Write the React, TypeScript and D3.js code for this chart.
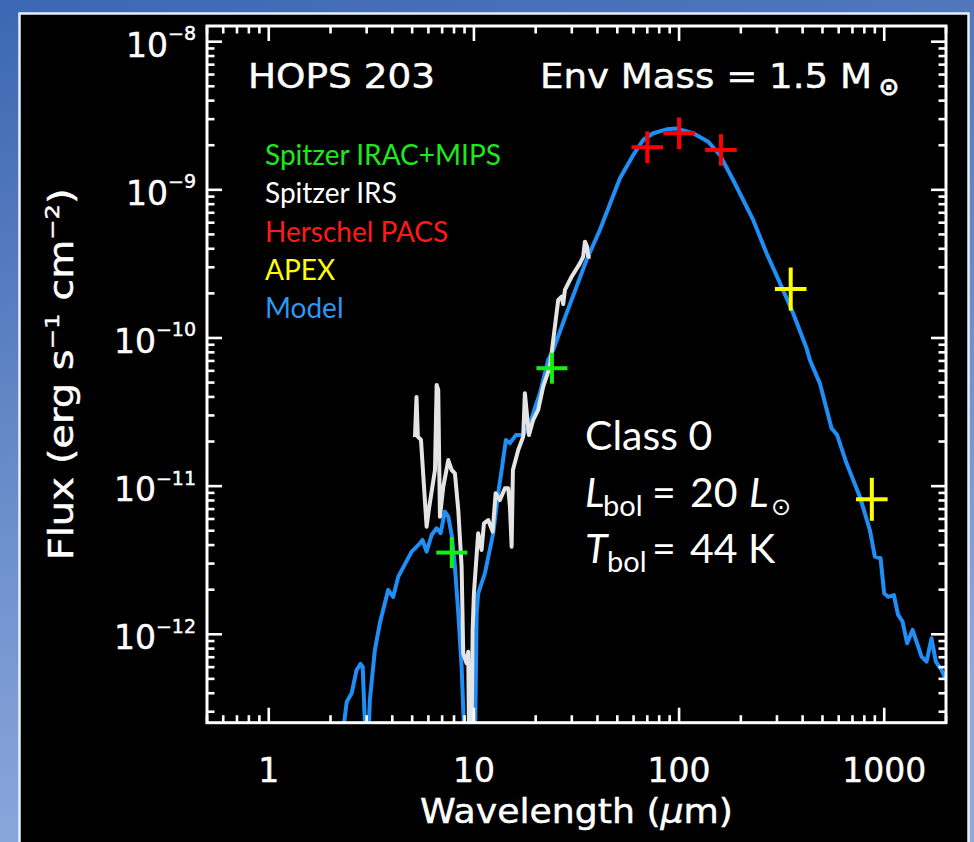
import React from 'react';
import * as d3 from 'd3';

// ---------------- data ----------------
// Model SED: wavelength (µm) and flux (erg s^-1 cm^-2)
const modelWave = [2.28, 2.40, 2.535, 2.68, 2.80, 2.87, 2.96, 3.06, 3.11, 3.29, 3.48, 3.82, 4.04, 4.28, 4.97, 5.46, 5.62, 5.88, 6.22, 6.58, 6.88, 7.22, 7.50, 7.79, 8.08, 8.39, 8.71, 9.05, 10.1, 10.31, 10.49, 11.31, 12.42, 13.13, 13.65, 14.32, 14.98, 16.02, 17.39, 18.75, 20.97, 23.02, 24.35, 28.3, 35.4, 41.1, 51.5, 59.8, 66.8, 74.8, 87.0, 97.2, 117.2, 138.7, 158.1, 183.5, 229.7, 266.9, 315.9, 359.8, 418.1, 434.0, 485.6, 553.6, 589.5, 655.2, 760.5, 850.8, 900, 959.4, 998.9, 1045, 1114, 1169, 1228, 1293, 1374, 1520, 1608, 1700, 1784, 1902, 2000];
const modelFlux = [2.0e-13, 3.51e-13, 4.0e-13, 5.74e-13, 6.31e-13, 6.04e-13, 2.0e-13, 2.0e-13, 3.6e-13, 7.83e-13, 1.19e-12, 1.99e-12, 1.79e-12, 2.45e-12, 3.61e-12, 4.11e-12, 4.33e-12, 3.61e-12, 4.68e-12, 5.19e-12, 4.81e-12, 6.73e-12, 6.22e-12, 4.68e-12, 2.86e-12, 1.39e-12, 6.04e-13, 1.5e-13, 1.5e-13, 1.39e-12, 1.89e-12, 2.58e-12, 4.81e-12, 8.95e-12, 1.285e-11, 2.05e-11, 1.95e-11, 2.21e-11, 2.21e-11, 2.66e-11, 4.24e-11, 7.11e-11, 8.3e-11, 1.47e-10, 3.36e-10, 5.36e-10, 1.197e-9, 1.718e-9, 2.17e-9, 2.41e-9, 2.56e-9, 2.59e-9, 2.41e-9, 2.11e-9, 1.718e-9, 1.165e-9, 6.26e-10, 3.73e-10, 2.22e-10, 1.47e-10, 8.52e-11, 7.11e-11, 4.94e-11, 2.46e-11, 2.21e-11, 1.426e-11, 8.49e-12, 5.06e-12, 3.34e-12, 3.26e-12, 1.89e-12, 1.79e-12, 1.84e-12, 1.35e-12, 1.216e-12, 8.69e-13, 1.07e-12, 7.06e-13, 6.53e-13, 9.4e-13, 6.53e-13, 5.74e-13, 4.92e-13];

// Spitzer IRS spectrum
const irsWave = [5.16, 5.25, 5.33, 5.52, 5.88, 6.06, 6.46, 6.58, 6.70, 6.83, 7.09, 7.50, 7.79, 8.08, 8.39, 8.71, 8.87, 9.21, 9.38, 9.49, 9.72, 9.86, 10.0, 10.49, 10.9, 11.19, 11.74, 12.34, 12.76, 13.39, 14.16, 14.70, 14.98, 15.27, 15.49, 16.44, 17.39, 17.72, 18.54, 19.45, 20.57, 21.76, 23.47, 24.81, 25.76, 26.76, 27.24, 27.77, 29.93, 32.86, 34.09, 34.75, 35.65, 36.06, 37.05];
const irsFlux = [2.14e-11, 4.0e-11, 2.16e-11, 2.05e-11, 5.32e-12, 7.27e-12, 1.285e-11, 4.82e-11, 4.46e-11, 6.22e-12, 9.9e-12, 1.5e-11, 1.285e-11, 1.22e-11, 6.9e-12, 2.86e-12, 7.44e-13, 6.37e-13, 7.63e-13, 1.5e-13, 1.5e-13, 1.07e-12, 1.89e-12, 4.81e-12, 3.71e-12, 5.61e-12, 5.9e-12, 4.93e-12, 8.95e-12, 8.05e-12, 9.66e-12, 9.66e-12, 7.27e-12, 3.9e-12, 1.285e-11, 1.754e-11, 2.16e-11, 4.24e-11, 2.21e-11, 2.8e-11, 3.27e-11, 4.69e-11, 6.4e-11, 1.19e-10, 1.805e-10, 1.9e-10, 1.697e-10, 2.11e-10, 2.59e-10, 3.19e-10, 3.54e-10, 4.47e-10, 4.13e-10, 3.54e-10, 3.54e-10];

// Photometry
const iracMipsWave = [7.8, 24];
const iracMipsFlux = [3.56e-12, 6.25e-11];
const pacsWave = [70, 100, 160];
const pacsFlux = [1.94e-9, 2.41e-9, 1.86e-9];
const apexWave = [350, 870];
const apexFlux = [2.14e-10, 8.15e-12];

// Axes / labels
const xDomain = [0.5, 2000];
const yDomain = [2.53e-13, 1.276e-8];
const xTickValues = [1, 10, 100, 1000];
const yTickExponents = [-8, -9, -10, -11, -12];
const legendLabels = ['Spitzer IRAC+MIPS', 'Spitzer IRS', 'Herschel PACS', 'APEX', 'Model'];
const sourceName = 'HOPS 203';
const envMassLabel = 'Env Mass = 1.5 M';
const classLabel = 'Class 0';
const lbolValue = '20';
const tbolValue = '44 K';

// ---------------- styles ----------------
const legendColors = ['#1ee81e', '#ffffff', '#ff1a1a', '#ffff00', '#2f98f2'];
const MODEL_COLOR = '#1f8ff7';
const IRS_COLOR = '#e4e4e4';
const AX_FONT = '"DejaVu Sans", sans-serif';
const CAL_FONT = 'Lato, "Open Sans", sans-serif';

export default function App() {
  const W = 974, H = 842;
  const L = 207, R = 946, T = 26, B = 722.7;
  const x = d3.scaleLog().domain(xDomain).range([L, R]);
  const y = d3.scaleLog().domain(yDomain).range([B, T]);
  const line = d3.line<[number, number]>().x(d => x(d[0])).y(d => y(d[1]));
  const modelPath = line(d3.zip(modelWave, modelFlux) as [number, number][]) || '';
  const irsPath = line(d3.zip(irsWave, irsFlux) as [number, number][]) || '';
  const isMajor = (v: number) => Math.abs(Math.log10(v) - Math.round(Math.log10(v))) < 1e-6;
  const xt = x.ticks();
  const yt = y.ticks();

  const cross = (wx: number, fy: number, color: string, hx: number, hy: number, key: string) => {
    const cx = x(wx), cy = y(fy);
    return (
      <g key={key} stroke={color} strokeWidth={4}>
        <line x1={cx - hx} x2={cx + hx} y1={cy} y2={cy} />
        <line x1={cx} x2={cx} y1={cy - hy} y2={cy + hy} />
      </g>
    );
  };

  return (
    <svg width={W} height={H} viewBox={`0 0 ${W} ${H}`} style={{ position: 'absolute', left: 0, top: 0, display: 'block' }}>
      <defs>
        <linearGradient id="bg" x1="0" y1="0" x2="0.25" y2="1">
          <stop offset="0" stopColor="#3c67b2" />
          <stop offset="1" stopColor="#8eaadd" />
        </linearGradient>
        <clipPath id="plotClip">
          <rect x={L} y={T} width={R - L} height={B - T} />
        </clipPath>
      </defs>
      <rect x={0} y={0} width={W} height={H} fill="url(#bg)" />
      <rect x={19.5} y={13.5} width={949} height={845} fill="#000" stroke="#e8eef8" strokeWidth={2.5} />

      {/* data */}
      <g clipPath="url(#plotClip)" fill="none" strokeLinejoin="round" strokeLinecap="butt">
        <path d={modelPath} stroke={MODEL_COLOR} strokeWidth={4} />
        <path d={irsPath} stroke={IRS_COLOR} strokeWidth={4} />
      </g>
      {iracMipsWave.map((w, i) => cross(w, iracMipsFlux[i], '#12f012', 15.5, 15.5, 'g' + i))}
      {pacsWave.map((w, i) => cross(w, pacsFlux[i], '#ff0000', 15.8, 15.8, 'r' + i))}
      {apexWave.map((w, i) => cross(w, apexFlux[i], '#ffff00', 15.8, 21.5, 'y' + i))}

      {/* axes box */}
      <rect x={L} y={T} width={R - L} height={B - T} fill="none" stroke="#fff" strokeWidth={3} />
      <g stroke="#fff" strokeWidth={2.6}>
        {xt.map((v, i) => {
          const px = x(v);
          const len = isMajor(v) ? 15 : 7.5;
          return (
            <g key={'xt' + i}>
              <line x1={px} x2={px} y1={B} y2={B - len} />
              <line x1={px} x2={px} y1={T} y2={T + len} />
            </g>
          );
        })}
        {yt.map((v, i) => {
          const py = y(v);
          const len = isMajor(v) ? 15 : 7.5;
          return (
            <g key={'yt' + i}>
              <line x1={L} x2={L + len} y1={py} y2={py} />
              <line x1={R} x2={R - len} y1={py} y2={py} />
            </g>
          );
        })}
      </g>

      {/* IDL-style texts (slightly heavier strokes) */}
      <g fill="#fff" stroke="#fff" strokeWidth={0.45} fontFamily={AX_FONT}>
        {/* tick labels */}
        <g fontSize={33}>
          {xTickValues.map(v => (
            <text key={'xl' + v} x={x(v)} y={782} textAnchor="middle">{String(v)}</text>
          ))}
          {yTickExponents.map(e => (
            <text key={'yl' + e} x={196} y={y(Math.pow(10, e)) + 15} textAnchor="end">
              10<tspan dy={-16.5} fontSize={19}>{'\u2212' + Math.abs(e)}</tspan>
            </text>
          ))}
        </g>

        {/* axis titles */}
        <text x={(L + R) / 2} y={823} textAnchor="middle" fontSize={33}
          textLength={313} lengthAdjust="spacingAndGlyphs">
          Wavelength (<tspan fontStyle="italic">µ</tspan>m)
        </text>
        <text transform={`translate(73, ${(T + B) / 2}) rotate(-90)`} textAnchor="middle"
          fontSize={33} textLength={372} lengthAdjust="spacingAndGlyphs">
          Flux (erg s<tspan dy={-14} fontSize={20}>{'\u22121'}</tspan><tspan dy={14}> cm</tspan><tspan dy={-14} fontSize={20}>{'\u22122'}</tspan><tspan dy={14}>)</tspan>
        </text>

        {/* in-plot headers */}
        <text x={248} y={88} fontSize={33} textLength={187} lengthAdjust="spacingAndGlyphs">{sourceName}</text>
        <text x={540} y={88} fontSize={33} textLength={332} lengthAdjust="spacingAndGlyphs">{envMassLabel}</text>
        <text x={889} y={95} fontWeight="bold" fontSize={25} textAnchor="middle">⊙</text>
      </g>

      {/* legend */}
      <g fontFamily={CAL_FONT} fontSize={28}>
        {legendLabels.map((lab, i) => (
          <text key={lab} x={265} y={165 + i * 38.3} fill={legendColors[i]}>{lab}</text>
        ))}
      </g>

      {/* annotation */}
      <g fill="#fff" fontFamily={CAL_FONT} fontSize={41}>
        <text x={585} y={450}>{classLabel}</text>
        <text y={507}>
          <tspan x={585} fontStyle="italic">L</tspan>
          <tspan x={603} dy={9.4} fontSize={29}>bol</tspan>
          <tspan x={652} dy={-9.4}>=</tspan>
          <tspan x={690}>{lbolValue}</tspan>
          <tspan x={749} fontStyle="italic">L</tspan>
          <tspan x={771} dy={8} fontFamily={AX_FONT} fontSize={24}>⊙</tspan>
        </text>
        <text y={563}>
          <tspan x={585} fontStyle="italic">T</tspan>
          <tspan x={607} dy={9.4} fontSize={29}>bol</tspan>
          <tspan x={652} dy={-9.4}>=</tspan>
          <tspan x={690}>{tbolValue}</tspan>
        </text>
      </g>
    </svg>
  );
}
